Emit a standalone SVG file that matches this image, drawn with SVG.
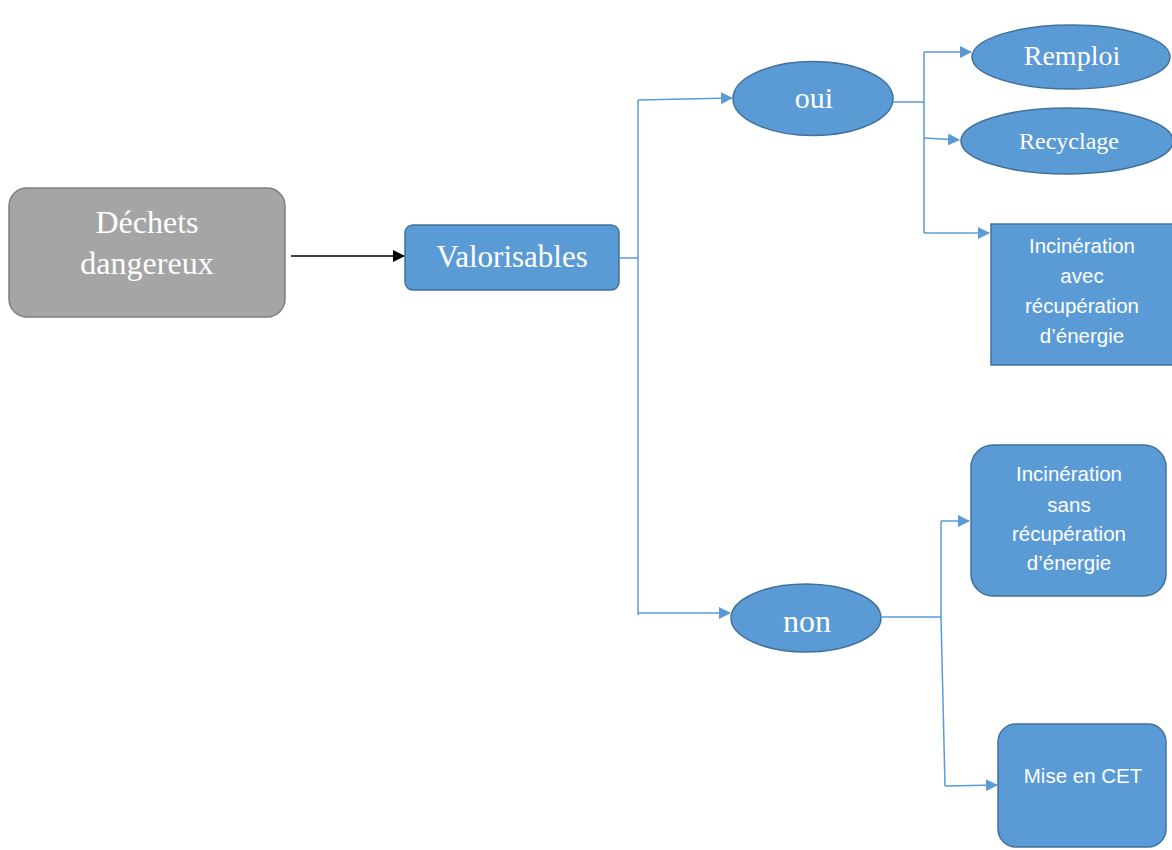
<svg xmlns="http://www.w3.org/2000/svg" width="1172" height="850" viewBox="0 0 1172 850">
<defs>
<marker id="ab" markerWidth="12" markerHeight="12" refX="11" refY="6" orient="auto" markerUnits="userSpaceOnUse"><path d="M0,0 L12,6 L0,12 z" fill="#5b9bd5"/></marker>
<marker id="ak" markerWidth="12" markerHeight="12" refX="11" refY="6" orient="auto" markerUnits="userSpaceOnUse"><path d="M0,0 L12,6 L0,12 z" fill="#000"/></marker>
<style>
.n{fill:#5b9bd5;stroke:#41719c;stroke-width:1.5}
.g{fill:#a5a5a5;stroke:#7f7f7f;stroke-width:1.5}
.s{font-family:"Liberation Serif",serif;fill:#fff;text-anchor:middle}
.a{font-family:"Liberation Sans",Arial,sans-serif;fill:#fff;text-anchor:middle;font-size:20.5px}
.c{fill:none;stroke:#5b9bd5;stroke-width:1.5}
</style>
</defs>
<rect width="1172" height="850" fill="#fff"/>
<g id="dechets"><rect class="g" x="9" y="188" width="276" height="129" rx="18"/><text class="s" font-size="32" x="147" y="233">Déchets</text><text class="s" font-size="32" x="147" y="274">dangereux</text></g>
<g id="valorisables"><rect class="n" x="405" y="225" width="214" height="65" rx="8"/><text class="s" font-size="31" x="512" y="267">Valorisables</text></g>
<g id="oui"><ellipse class="n" cx="813" cy="98.5" rx="80" ry="37"/><text class="s" font-size="30" x="814" y="108">oui</text></g>
<g id="non"><ellipse class="n" cx="806" cy="618" rx="75" ry="34"/><text class="s" font-size="32" x="807" y="632">non</text></g>
<g id="remploi"><ellipse class="n" cx="1071" cy="57" rx="99" ry="32"/><text class="s" font-size="28" x="1072" y="65">Remploi</text></g>
<g id="recyclage"><ellipse class="n" cx="1067" cy="141" rx="106" ry="33"/><text class="s" font-size="24" x="1069" y="149">Recyclage</text></g>
<g id="incin-avec"><rect class="n" x="991" y="224" width="185" height="141"/><text class="a" x="1082" y="253">Incinération</text><text class="a" x="1082" y="283">avec</text><text class="a" x="1082" y="313">récupération</text><text class="a" x="1082" y="343">d’énergie</text></g>
<g id="incin-sans"><rect class="n" x="971" y="445" width="195" height="151" rx="22"/><text class="a" x="1069" y="481">Incinération</text><text class="a" x="1069" y="512">sans</text><text class="a" x="1069" y="541">récupération</text><text class="a" x="1069" y="570">d’énergie</text></g>
<g id="cet"><rect class="n" x="998" y="724" width="168" height="123" rx="18"/><text class="a" x="1083" y="783">Mise en CET</text></g>
<g id="connectors">
<path d="M291,256 L404,256" fill="none" stroke="#000" stroke-width="1.5" marker-end="url(#ak)"/>
<path class="c" d="M619,258 L638,258"/>
<path class="c" d="M638,100 L638,615"/>
<path class="c" d="M638,100 L732,98" marker-end="url(#ab)"/>
<path class="c" d="M638,613 L730,613" marker-end="url(#ab)"/>
<path class="c" d="M893,102 L924,102 M924,52 L924,233"/>
<path class="c" d="M924,52 L971,52" marker-end="url(#ab)"/>
<path class="c" d="M924,138 L959,140" marker-end="url(#ab)"/>
<path class="c" d="M924,233 L989,233" marker-end="url(#ab)"/>
<path class="c" d="M882,617 L941,617 M941,521 L941,617 L945,786"/>
<path class="c" d="M941,521 L969,521" marker-end="url(#ab)"/>
<path class="c" d="M945,786 L997,785" marker-end="url(#ab)"/>
</g>
</svg>
